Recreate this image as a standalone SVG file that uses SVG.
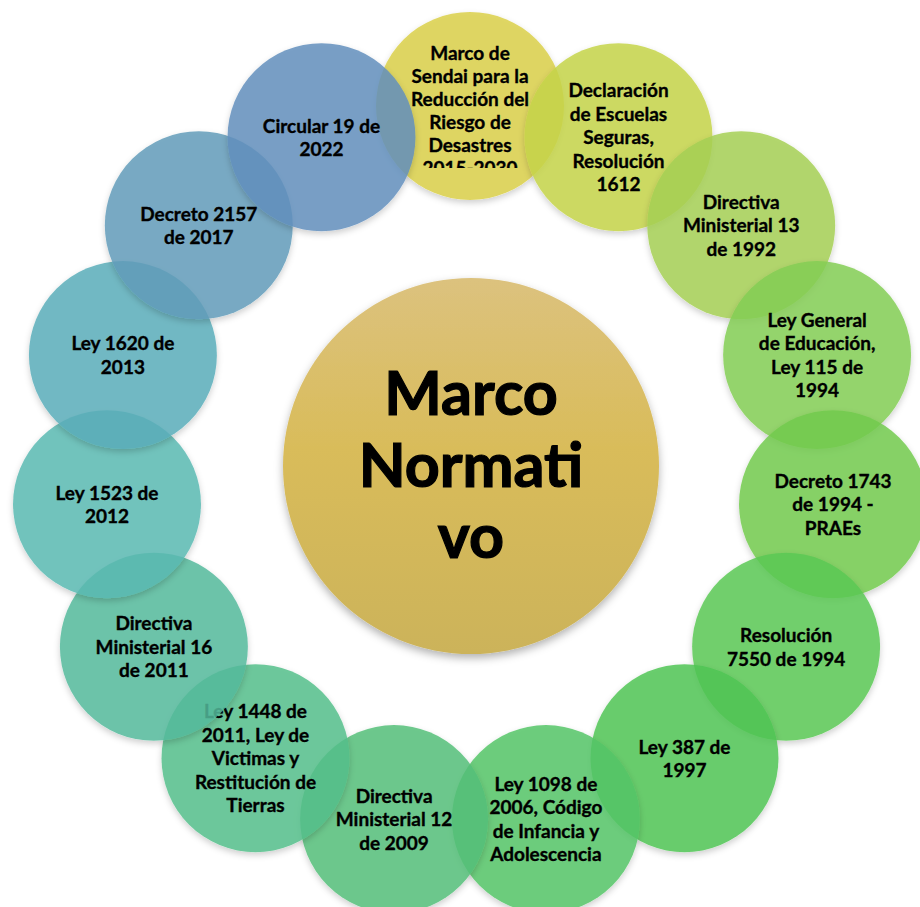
<svg xmlns="http://www.w3.org/2000/svg" width="920" height="907" viewBox="0 0 920 907">
<style>
.t{font-family:Lato,"Open Sans","Liberation Sans",sans-serif;font-weight:700;font-size:19px;fill:#000;stroke:#000;stroke-width:0.35px;text-anchor:middle}
.big{font-family:Lato,"Open Sans","Liberation Sans",sans-serif;font-weight:700;font-size:61px;fill:#000;stroke:#000;stroke-width:1.2px;text-anchor:middle}
.c{fill-opacity:0.85;filter:url(#sh)}
</style>
<defs>
<linearGradient id="cg" x1="0" y1="0" x2="0" y2="1">
<stop offset="0" stop-color="#dcc27e"/>
<stop offset="0.45" stop-color="#d9bc5a"/>
<stop offset="1" stop-color="#ccb35a"/>
</linearGradient>
<filter id="ds" x="-20%" y="-20%" width="140%" height="150%">
<feDropShadow dx="0" dy="4" stdDeviation="4" flood-color="#000" flood-opacity="0.3"/>
</filter>
<filter id="sh" x="-20%" y="-20%" width="140%" height="150%">
<feGaussianBlur in="SourceAlpha" stdDeviation="3"/>
<feOffset dy="3" result="b"/>
<feComposite in="b" in2="SourceAlpha" operator="out" result="o"/>
<feFlood flood-color="#000" flood-opacity="0.22"/>
<feComposite in2="o" operator="in" result="s"/>
<feMerge><feMergeNode in="s"/><feMergeNode in="SourceGraphic"/></feMerge>
</filter>
<clipPath id="clipSendai"><rect x="370" y="0" width="200" height="168"/></clipPath>
</defs>
<rect width="920" height="907" fill="#fff"/>
<g id="connectors"/>
<g id="center">
<circle cx="471" cy="466" r="188" fill="url(#cg)" filter="url(#ds)"/>
<text class="big" x="471" y="415">Marco</text>
<text class="big" x="471" y="487">Normati</text>
<text class="big" x="471" y="558">vo</text>
</g>
<g id="n1">
<circle class="c" cx="470" cy="106" r="94" fill="#d9cf48"/>
<g clip-path="url(#clipSendai)">
<text class="t" x="470" y="60">Marco de</text>
<text class="t" x="470" y="83">Sendai para la</text>
<text class="t" x="470" y="106">Reducción del</text>
<text class="t" x="470" y="129">Riesgo de</text>
<text class="t" x="470" y="152">Desastres</text>
<text class="t" x="470" y="175">2015-2030</text>
</g>
</g>
<g id="n2">
<circle class="c" cx="618.5" cy="137.2" r="94" fill="#c4d349"/>
<text class="t" x="618.5" y="97.2">Declaración</text>
<text class="t" x="618.5" y="120.7">de Escuelas</text>
<text class="t" x="618.5" y="144.2">Seguras,</text>
<text class="t" x="618.5" y="167.7">Resolución</text>
<text class="t" x="618.5" y="191.2">1612</text>
</g>
<g id="n3">
<circle class="c" cx="741.2" cy="225.3" r="94" fill="#a4cf54"/>
<text class="t" x="741.2" y="208.8">Directiva</text>
<text class="t" x="741.2" y="232.3">Ministerial 13</text>
<text class="t" x="741.2" y="255.8">de 1992</text>
</g>
<g id="n4">
<circle class="c" cx="817.1" cy="355.1" r="94" fill="#83cc54"/>
<text class="t" x="817.1" y="326.9">Ley General</text>
<text class="t" x="817.1" y="350.4">de Educación,</text>
<text class="t" x="817.1" y="373.9">Ley 115 de</text>
<text class="t" x="817.1" y="397.4">1994</text>
</g>
<g id="n5">
<circle class="c" cx="833" cy="504.2" r="94" fill="#72ca4e"/>
<text class="t" x="833" y="487.7">Decreto 1743</text>
<text class="t" x="833" y="511.2">de 1994 -</text>
<text class="t" x="833" y="534.7">PRAEs</text>
</g>
<g id="n6">
<circle class="c" cx="786.1" cy="646.8" r="94" fill="#5ac854"/>
<text class="t" x="786.1" y="642">Resolución</text>
<text class="t" x="786.1" y="665.5">7550 de 1994</text>
</g>
<g id="n7">
<circle class="c" cx="684.5" cy="758.2" r="94" fill="#4fc454"/>
<text class="t" x="684.5" y="753.5">Ley 387 de</text>
<text class="t" x="684.5" y="777">1997</text>
</g>
<g id="n8">
<circle class="c" cx="545.9" cy="819.1" r="94" fill="#54c466"/>
<text class="t" x="545.9" y="790.9">Ley 1098 de</text>
<text class="t" x="545.9" y="814.4">2006, Código</text>
<text class="t" x="545.9" y="837.9">de Infancia y</text>
<text class="t" x="545.9" y="861.4">Adolescencia</text>
</g>
<g id="n9">
<circle class="c" cx="394.1" cy="819.1" r="94" fill="#54be78"/>
<text class="t" x="394.1" y="802.6">Directiva</text>
<text class="t" x="394.1" y="826.1">Ministerial 12</text>
<text class="t" x="394.1" y="849.6">de 2009</text>
</g>
<g id="n10">
<circle class="c" cx="255.5" cy="758.2" r="94" fill="#54be89"/>
<text class="t" x="255.5" y="718.2">Ley 1448 de</text>
<text class="t" x="255.5" y="741.7">2011, Ley de</text>
<text class="t" x="255.5" y="765.2">Victimas y</text>
<text class="t" x="255.5" y="788.7">Restitución de</text>
<text class="t" x="255.5" y="812.2">Tierras</text>
</g>
<g id="n11">
<circle class="c" cx="153.9" cy="646.8" r="94" fill="#54b89b"/>
<text class="t" x="153.9" y="630.3">Directiva</text>
<text class="t" x="153.9" y="653.8">Ministerial 16</text>
<text class="t" x="153.9" y="677.3">de 2011</text>
</g>
<g id="n12">
<circle class="c" cx="107" cy="504.2" r="94" fill="#5ab8b2"/>
<text class="t" x="107" y="499.5">Ley 1523 de</text>
<text class="t" x="107" y="523">2012</text>
</g>
<g id="n13">
<circle class="c" cx="122.9" cy="355.1" r="94" fill="#5aadb8"/>
<text class="t" x="122.9" y="350.4">Ley 1620 de</text>
<text class="t" x="122.9" y="373.9">2013</text>
</g>
<g id="n14">
<circle class="c" cx="198.8" cy="225.3" r="94" fill="#609bb8"/>
<text class="t" x="198.8" y="220.6">Decreto 2157</text>
<text class="t" x="198.8" y="244.1">de 2017</text>
</g>
<g id="n15">
<circle class="c" cx="321.5" cy="137.2" r="94" fill="#628ebc"/>
<text class="t" x="321.5" y="132.5">Circular 19 de</text>
<text class="t" x="321.5" y="156">2022</text>
</g>
</svg>
